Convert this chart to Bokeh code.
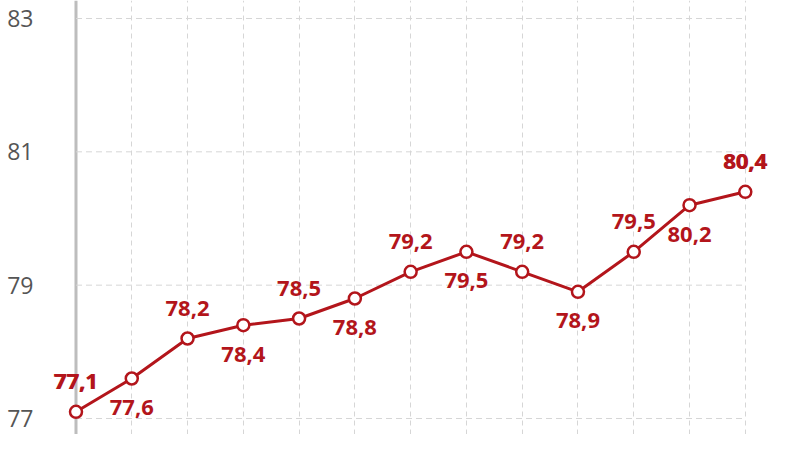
from bokeh.plotting import figure
from bokeh.models import Range1d, FixedTicker, Grid, Span, ColumnDataSource
from bokeh.core.properties import value
from bokeh.embed import file_html
from bokeh.resources import INLINE

# data
values = [77.1, 77.6, 78.2, 78.4, 78.5, 78.8, 79.2, 79.5, 79.2, 78.9, 79.5, 80.2, 80.4]
y_ticks = [77, 79, 81, 83]

RED = "#b3151b"
GRID = "#d6d6d6"
idx = list(range(len(values)))
labels = [f"{v:.1f}".replace(".", ",") for v in values]
above = [i % 2 == 0 for i in idx]

p = figure(width=784, height=434, output_backend="svg", toolbar_location=None,
           x_axis_location=None, min_border_left=44, min_border_right=0,
           min_border_top=0, min_border_bottom=0,
           x_range=Range1d(-0.5647, 12.703), y_range=Range1d(76.76, 83.27))
p.outline_line_color = None
p.background_fill_color = "white"
p.border_fill_color = "white"

p.ygrid.visible = False
p.xgrid.visible = False
vgrid = Grid(dimension=0, ticker=FixedTicker(ticks=idx[1:]),
             grid_line_color=GRID, grid_line_dash="5 4", grid_line_width=1)
p.add_layout(vgrid)
p.segment(x0=[idx[0]] * len(y_ticks), x1=[idx[-1]] * len(y_ticks), y0=y_ticks, y1=y_ticks,
          line_color=GRID, line_dash="6 4", line_width=1)

ax = p.yaxis[0]
ax.ticker = FixedTicker(ticks=y_ticks)
ax.axis_line_color = None
ax.major_tick_line_color = None
ax.minor_tick_line_color = None
ax.major_label_standoff = 5
ax.major_label_text_font = "Open Sans"
ax.major_label_text_font_size = "23px"
ax.major_label_text_color = "#555555"

p.add_layout(Span(location=idx[0], dimension="height", line_color="#bdbdbd",
                  line_width=3, level="underlay"))

p.line(idx, values, line_color=RED, line_width=3)
p.scatter(idx, values, size=12, fill_color="white", line_color=RED, line_width=2.5)

mid = [i for i in idx if 0 < i < len(values) - 1]
ends = [0, len(values) - 1]

def src(ids):
    return ColumnDataSource(dict(
        x=[idx[i] for i in ids], y=[values[i] for i in ids],
        t=[labels[i] for i in ids],
        off=[-30 if above[i] else 29 for i in ids]))

p.text(x="x", y="y", text="t", source=src(mid), y_offset="off",
       text_align="center", text_baseline="alphabetic",
       text_font=value("Open Sans"), text_font_style="bold",
       text_font_size="22px", text_color=RED)
ends_src = src(ends)
for dx in (-0.4, 0.4):
    p.text(x="x", y="y", text="t", source=ends_src, y_offset="off", x_offset=dx,
           text_align="center", text_baseline="alphabetic",
           text_font=value("Open Sans"), text_font_style="bold",
           text_font_size="22px", text_color=RED)

open("out.html", "w").write(file_html(p, INLINE))
